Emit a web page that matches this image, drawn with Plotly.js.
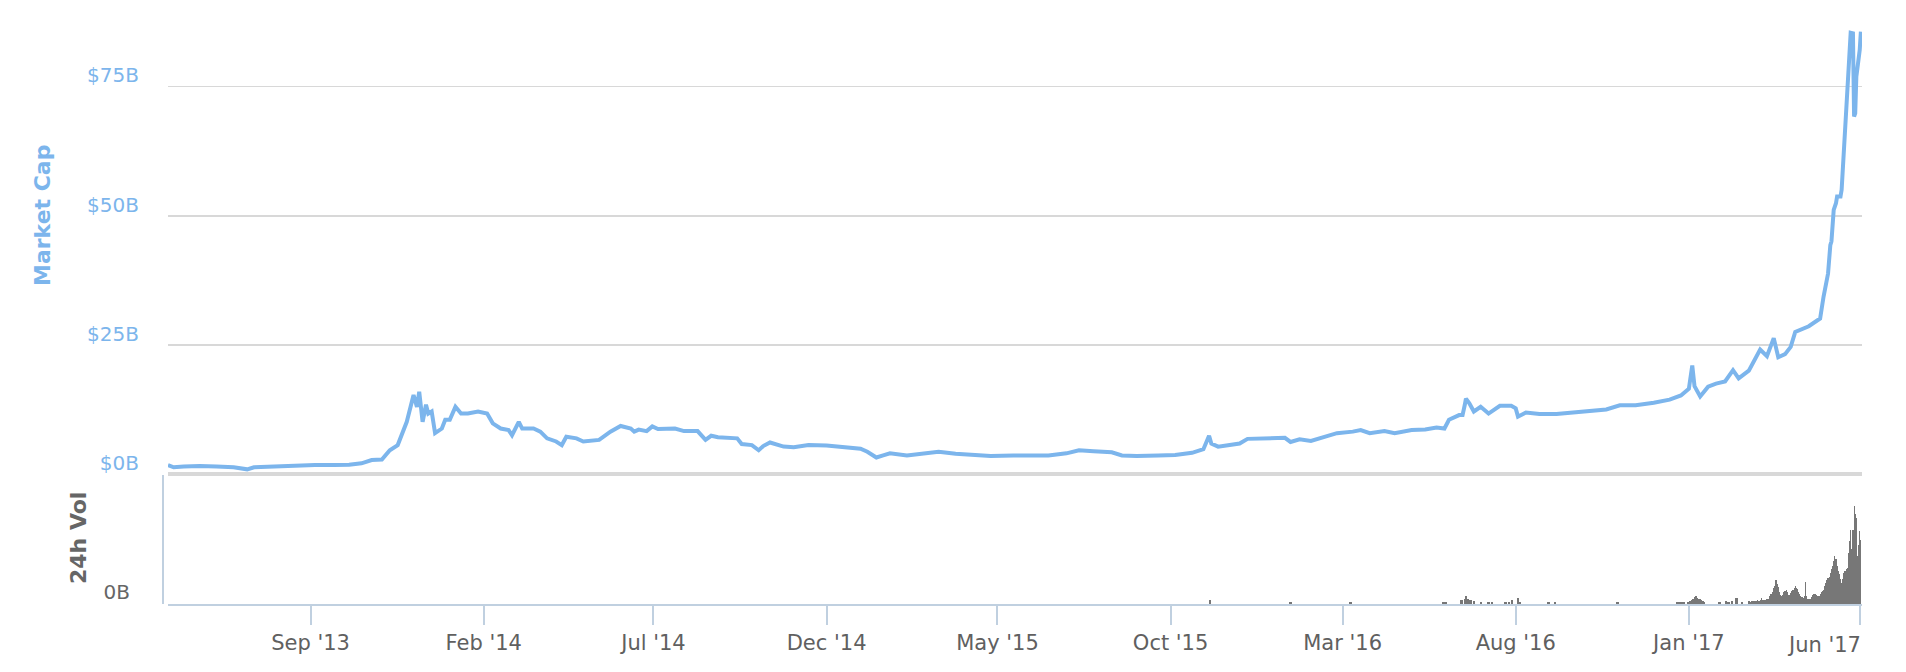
<!DOCTYPE html>
<html>
<head>
<meta charset="utf-8">
<script src="https://cdn.plot.ly/plotly-3.0.1.min.js"></script>
<style>
  html, body { margin: 0; padding: 0; background: #ffffff; }
  #chart { width: 1906px; height: 672px; }
</style>
</head>
<body>
<div id="chart"></div>
<script>
// ---------- Market cap (billions of USD) ----------
const mcapDates = [
  '2013-04-28','2013-05-03','2013-05-12','2013-05-26','2013-06-10','2013-06-25','2013-07-07','2013-07-13','2013-07-25','2013-08-08',
  '2013-08-22','2013-09-05','2013-09-22','2013-10-05','2013-10-16','2013-10-25','2013-11-03','2013-11-10','2013-11-17','2013-11-21',
  '2013-11-25','2013-12-01','2013-12-04','2013-12-06','2013-12-09','2013-12-12','2013-12-14','2013-12-17','2013-12-20','2013-12-26',
  '2013-12-29','2014-01-02','2014-01-07','2014-01-12','2014-01-18','2014-01-27','2014-02-04','2014-02-09','2014-02-16','2014-02-23',
  '2014-02-26','2014-03-04','2014-03-07','2014-03-17','2014-03-23','2014-03-29','2014-04-06','2014-04-11','2014-04-15','2014-04-24',
  '2014-04-30','2014-05-14','2014-05-24','2014-06-02','2014-06-11','2014-06-14','2014-06-18','2014-06-25','2014-06-30','2014-07-05',
  '2014-07-20','2014-07-28','2014-08-09','2014-08-16','2014-08-21','2014-08-27','2014-09-13','2014-09-17','2014-09-26','2014-10-02',
  '2014-10-06','2014-10-12','2014-10-24','2014-11-02','2014-11-15','2014-12-01','2014-12-15','2014-12-31','2015-01-06','2015-01-14',
  '2015-01-20','2015-01-26','2015-02-10','2015-02-20','2015-03-10','2015-03-25','2015-04-10','2015-04-25','2015-05-15','2015-06-01',
  '2015-06-15','2015-07-01','2015-07-12','2015-07-25','2015-08-10','2015-08-19','2015-09-01','2015-09-20','2015-10-05','2015-10-20',
  '2015-10-30','2015-11-04','2015-11-06','2015-11-12','2015-11-20','2015-12-01','2015-12-08','2015-12-20','2016-01-01','2016-01-10',
  '2016-01-15','2016-01-23','2016-02-02','2016-02-10','2016-02-25','2016-03-10','2016-03-17','2016-03-25','2016-04-07','2016-04-16',
  '2016-05-01','2016-05-13','2016-05-23','2016-05-30','2016-06-03','2016-06-12','2016-06-15','2016-06-17','2016-06-18','2016-06-21',
  '2016-06-25','2016-07-01','2016-07-08','2016-07-18','2016-07-28','2016-08-01','2016-08-03','2016-08-10','2016-08-22','2016-09-06',
  '2016-09-20','2016-10-05','2016-10-20','2016-11-01','2016-11-15','2016-12-01','2016-12-15','2016-12-25','2017-01-01','2017-01-04',
  '2017-01-06','2017-01-11','2017-01-18','2017-01-25','2017-02-02','2017-02-09','2017-02-14','2017-02-23','2017-03-05','2017-03-11',
  '2017-03-17','2017-03-21','2017-03-27','2017-04-01','2017-04-05','2017-04-17','2017-04-24','2017-04-27','2017-04-30','2017-05-04',
  '2017-05-06','2017-05-07','2017-05-09','2017-05-11','2017-05-12','2017-05-15','2017-05-16','2017-05-18','2017-05-20','2017-05-22',
  '2017-05-24','2017-05-26','2017-05-27','2017-05-28','2017-05-29','2017-06-01','2017-06-02'
];
const mcapValues = [
  1.74,1.3,1.45,1.55,1.45,1.3,0.9,1.3,1.4,1.55,
  1.6,1.72,1.74,1.8,2.07,2.7,2.8,4.6,5.6,7.9,
  10.1,15.3,13.0,15.9,10.1,13.4,11.7,12.1,7.9,8.8,
  10.5,10.5,13.0,11.7,11.7,12.1,11.7,9.8,8.8,8.5,
  7.5,10.1,8.8,8.8,8.2,6.9,6.3,5.6,7.2,6.9,
  6.3,6.6,8.2,9.3,8.8,8.2,8.6,8.3,9.2,8.7,
  8.8,8.3,8.3,6.6,7.4,7.1,6.9,5.8,5.6,4.6,
  5.4,6.1,5.3,5.2,5.6,5.5,5.2,4.9,4.3,3.2,
  3.6,4.0,3.6,3.9,4.3,3.9,3.6,3.5,3.6,3.5,
  3.6,4.0,4.6,4.4,4.2,3.6,3.5,3.6,3.7,4.1,
  4.8,7.4,5.9,5.3,5.5,5.9,6.8,6.9,6.9,7.0,
  6.2,6.7,6.4,6.9,7.9,8.2,8.5,7.9,8.3,7.9,
  8.5,8.6,9.0,8.8,10.5,11.4,11.4,13.4,14.6,13.7,
  12.1,13.0,11.7,13.2,13.2,12.7,11.1,11.9,11.6,11.6,
  11.9,12.1,12.5,13.3,13.3,13.8,14.4,15.2,16.5,21.0,
  17.0,15.0,16.9,17.5,17.9,20.1,18.5,20.0,24.1,22.8,
  26.3,22.6,23.2,24.6,27.5,28.6,29.7,30.1,34.3,38.8,
  44.3,45.0,51.1,52.4,53.7,53.7,55.0,62.7,72.4,79.5,
  85.4,85.3,69.2,69.8,76.9,82.1,85.6
];

// ---------- 24h volume (billions of USD) ----------
// isolated days
const volSparseDates = [
  '2015-11-05','2016-01-15','2016-03-08','2016-05-29','2016-05-31','2016-06-14','2016-06-17','2016-06-18','2016-06-20','2016-06-22',
  '2016-06-25','2016-07-01','2016-07-08','2016-07-11','2016-07-23','2016-07-26','2016-07-29','2016-08-03','2016-08-05','2016-08-30',
  '2016-09-05','2016-10-30','2016-12-22','2016-12-24','2016-12-26','2016-12-28','2016-12-31','2017-01-28','2017-02-03','2017-02-05',
  '2017-02-08','2017-02-12','2017-02-17','2017-02-23','2017-02-24','2017-02-26','2017-02-28'
];
const volSparseValues = [
  0.11,0.06,0.06,0.06,0.06,0.11,0.14,0.21,0.13,0.10,
  0.07,0.05,0.05,0.05,0.06,0.06,0.11,0.15,0.05,0.06,
  0.06,0.05,0.05,0.05,0.05,0.04,0.05,0.04,0.07,0.06,
  0.07,0.15,0.04,0.07,0.06,0.07,0.07
];
// consecutive days
const volDailyDates = [
  '2017-01-01','2017-01-02','2017-01-03','2017-01-04','2017-01-05','2017-01-06','2017-01-07','2017-01-08','2017-01-09','2017-01-10',
  '2017-01-11','2017-01-12','2017-01-13','2017-01-14','2017-01-15',
  '2017-03-01','2017-03-02','2017-03-03','2017-03-04','2017-03-05','2017-03-06','2017-03-07','2017-03-08','2017-03-09','2017-03-10',
  '2017-03-11','2017-03-12','2017-03-13','2017-03-14','2017-03-15','2017-03-16','2017-03-17','2017-03-18','2017-03-19','2017-03-20',
  '2017-03-21','2017-03-22','2017-03-23','2017-03-24','2017-03-25','2017-03-26','2017-03-27','2017-03-28','2017-03-29','2017-03-30',
  '2017-03-31','2017-04-01','2017-04-02','2017-04-03','2017-04-04','2017-04-05','2017-04-06','2017-04-07','2017-04-08','2017-04-09',
  '2017-04-10','2017-04-11','2017-04-12','2017-04-13','2017-04-14','2017-04-15','2017-04-16','2017-04-17','2017-04-18','2017-04-19',
  '2017-04-20','2017-04-21','2017-04-22','2017-04-23','2017-04-24','2017-04-25','2017-04-26','2017-04-27','2017-04-28','2017-04-29',
  '2017-04-30','2017-05-01','2017-05-02','2017-05-03','2017-05-04','2017-05-05','2017-05-06','2017-05-07','2017-05-08','2017-05-09',
  '2017-05-10','2017-05-11','2017-05-12','2017-05-13','2017-05-14','2017-05-15','2017-05-16','2017-05-17','2017-05-18','2017-05-19',
  '2017-05-20','2017-05-21','2017-05-22','2017-05-23','2017-05-24','2017-05-25','2017-05-26','2017-05-27','2017-05-28','2017-05-29',
  '2017-05-30','2017-05-31','2017-06-01','2017-06-02'
];
const volDailyValues = [
  0.06,0.07,0.10,0.12,0.13,0.18,0.20,0.21,0.16,0.13,
  0.13,0.10,0.08,0.07,0.05,
  0.06,0.07,0.09,0.08,0.10,0.15,0.10,0.09,0.10,0.11,
  0.12,0.14,0.20,0.26,0.25,0.30,0.41,0.45,0.62,0.50,
  0.43,0.30,0.22,0.21,0.23,0.30,0.33,0.37,0.30,0.24,
  0.24,0.28,0.32,0.35,0.40,0.45,0.42,0.38,0.30,0.25,
  0.21,0.18,0.15,0.20,0.56,0.20,0.14,0.13,0.14,0.18,
  0.22,0.25,0.26,0.25,0.22,0.20,0.21,0.25,0.30,0.34,
  0.37,0.45,0.55,0.62,0.66,0.69,0.80,0.90,0.98,1.10,
  1.22,1.15,0.96,0.85,0.78,0.65,0.54,0.65,0.79,0.85,
  0.90,0.92,1.30,1.60,1.90,1.41,1.90,2.51,2.30,2.20,
  1.24,1.50,1.86,1.65
];

// ---------- Axis ticks ----------
const xTickDates  = ['2013-09-01','2014-02-01','2014-07-01','2014-12-01','2015-05-01','2015-10-01','2016-03-01','2016-08-01','2017-01-01','2017-06-01'];
const xTickLabels = ["Sep '13","Feb '14","Jul '14","Dec '14","May '15","Oct '15","Mar '16","Aug '16","Jan '17","Jun '17"];
const mcapTickVals   = [0, 25, 50, 75];
const mcapTickLabels = ['$0B', '$25B', '$50B', '$75B'];
const volTickVals    = [0];
const volTickLabels  = ['0B'];

const xRange = ['2013-04-28', '2017-06-03'];
const DAY = 86400000;

// geometry (pixels)
const W = 1906, H = 672;
const mL = 160, mR = 44, mT = 25, mB = 68;
const pw = W - mL - mR, ph = H - mT - mB;
const px = v => v / pw;          // horizontal paper fraction
const py = v => v / ph;          // vertical paper fraction

const FONT = 'DejaVu Sans, Lucida Grande, sans-serif';
const BLUE = '#7cb5ec';
const GREY_TXT = '#666666';
const AXIS_LINE = '#c0d0e0';

// the last x label is shown right-aligned (like the original), others are axis tick labels
const axisTickText = xTickLabels.map((t, i) => i === xTickLabels.length - 1 ? '' : t);

const traces = [
  {
    type: 'scatter', mode: 'lines',
    x: mcapDates, y: mcapValues,
    xaxis: 'x', yaxis: 'y',
    line: { color: BLUE, width: 4 },
    hoverinfo: 'skip', showlegend: false
  },
  {
    type: 'bar',
    x: volSparseDates, y: volSparseValues,
    xaxis: 'x2', yaxis: 'y2',
    width: 2 * DAY,
    marker: { color: '#777777', line: { width: 0 } },
    hoverinfo: 'skip', showlegend: false
  },
  {
    type: 'bar',
    x: volDailyDates, y: volDailyValues,
    xaxis: 'x2', yaxis: 'y2',
    width: DAY,
    marker: { color: '#777777', line: { width: 0 } },
    hoverinfo: 'skip', showlegend: false
  }
];

const xDomain = [px(168 - mL), 1];
const topBottomPx = 604 - 474;   // zero line of the top panel
const botTopPx = 604 - 475;

const layout = {
  width: W, height: H,
  margin: { l: mL, r: mR, t: mT, b: mB, pad: 0 },
  paper_bgcolor: '#ffffff', plot_bgcolor: '#ffffff',
  showlegend: false,
  bargap: 0,
  font: { family: FONT, size: 20, color: GREY_TXT },
  xaxis: {
    type: 'date', domain: xDomain, range: xRange,
    anchor: 'y', matches: 'x2',
    showticklabels: false, showgrid: false, zeroline: false, showline: false, ticks: ''
  },
  yaxis: {
    domain: [py(topBottomPx), 1],
    range: [0, 86.9],
    anchor: 'x',
    tickvals: mcapTickVals, ticktext: mcapTickLabels,
    tickfont: { family: FONT, size: 20, color: BLUE },
    ticks: '', ticklabelstandoff: 28, ticklabelshift: -11,
    showgrid: true, gridcolor: '#d8d8d8', gridwidth: 1.8,
    zeroline: true, zerolinecolor: '#d8d8d8', zerolinewidth: 4,
    showline: false
  },
  xaxis2: {
    type: 'date', domain: xDomain, range: xRange,
    anchor: 'y2',
    tickvals: xTickDates, ticktext: axisTickText,
    tickfont: { family: FONT, size: 21, color: '#606060' },
    ticks: 'outside', ticklen: 19, tickwidth: 2, tickcolor: AXIS_LINE,
    showline: true, linecolor: AXIS_LINE, linewidth: 2,
    showgrid: false, zeroline: false
  },
  yaxis2: {
    domain: [0, py(botTopPx)],
    range: [0, 3.3],
    anchor: 'free', position: px(163 - mL),
    tickvals: volTickVals, ticktext: volTickLabels,
    tickfont: { family: FONT, size: 20, color: GREY_TXT },
    ticks: '', ticklabelstandoff: 28, ticklabelshift: -12,
    showline: true, linecolor: AXIS_LINE, linewidth: 2,
    showgrid: false, zeroline: false
  },
  annotations: [
    {
      text: '<b>Market Cap</b>', textangle: -90,
      xref: 'paper', yref: 'paper',
      x: px(42 - mL), y: 1 - py(215 - mT),
      xanchor: 'center', yanchor: 'middle', showarrow: false,
      font: { family: FONT, size: 22, color: BLUE }
    },
    {
      text: '<b>24h Vol</b>', textangle: -90,
      xref: 'paper', yref: 'paper',
      x: px(78 - mL), y: 1 - py(538 - mT),
      xanchor: 'center', yanchor: 'middle', showarrow: false,
      font: { family: FONT, size: 22, color: GREY_TXT }
    },
    {
      text: xTickLabels[xTickLabels.length - 1],
      xref: 'x2', yref: 'paper',
      x: xTickDates[xTickDates.length - 1], y: -py(645 - 604),
      xanchor: 'right', yanchor: 'middle', xshift: 3, showarrow: false,
      font: { family: FONT, size: 21, color: '#606060' }
    }
  ]
};

Plotly.newPlot('chart', traces, layout, { displayModeBar: false, staticPlot: true });
</script>
</body>
</html>
